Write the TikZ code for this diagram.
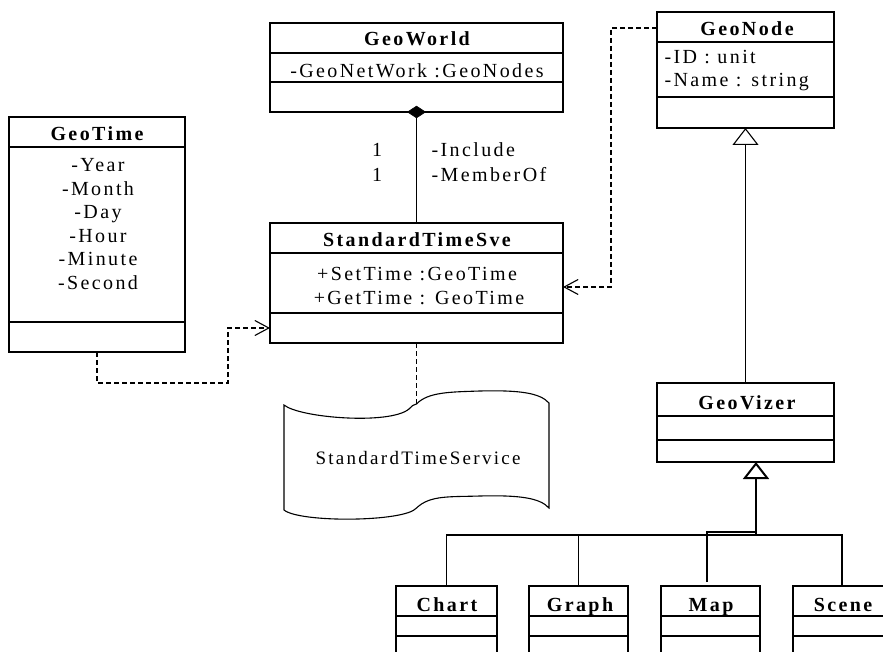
\documentclass[tikz,border=0pt]{standalone}
\usepackage{fontspec}
\setmainfont{Liberation Serif}[LetterSpace=12]
\usetikzlibrary{arrows.meta,shapes.geometric}

% horizontal compartment line inside a class box, #2 pt below its top edge
\newcommand\compline[2]{\draw ([yshift=-#2pt]#1.north west) -- ([yshift=-#2pt]#1.north east);}

\begin{document}
\begin{tikzpicture}[x=1pt,y=-1pt, line width=1.1pt,
  box/.style={draw, rectangle, inner sep=0pt, outer sep=0pt, anchor=north west},
  txt/.style={inner sep=0pt, anchor=base, font=\fontsize{20}{24}\selectfont},
  ttl/.style={inner sep=0pt, anchor=base, font=\fontsize{20}{24}\selectfont\bfseries},
  ltxt/.style={txt, anchor=base west},
  dashes/.style={dash pattern=on 5pt off 3pt, line width=1.3pt},
  dep/.style={dashes, -{Straight Barb[length=14pt,width=15pt,line width=1.1pt]}},
  gen/.style={-{Triangle[open,length=17pt,width=26pt]}},
]
\useasboundingbox (0,0) rectangle (883,652);
\clip (0,0) rectangle (883,652);

% ---------- class boxes ----------
\node[box, minimum width=293pt, minimum height=89pt] (geoworld) at (270,23) {};
\compline{geoworld}{30}\compline{geoworld}{59}

\node[box, minimum width=176pt, minimum height=235pt] (geotime) at (9,117) {};
\compline{geotime}{30}\compline{geotime}{205}

\node[box, minimum width=293pt, minimum height=120pt] (sts) at (270,223) {};
\compline{sts}{30}\compline{sts}{90}

\node[box, minimum width=177pt, minimum height=116pt] (geonode) at (657,12) {};
\compline{geonode}{30}\compline{geonode}{85}

\node[box, minimum width=177pt, minimum height=79pt] (geovizer) at (657,383) {};
\compline{geovizer}{33}\compline{geovizer}{57}

\node[box, minimum width=101pt, minimum height=90pt] (chart) at (396,586) {};
\compline{chart}{30}\compline{chart}{50}
\node[box, minimum width=99pt, minimum height=90pt] (graph) at (529,586) {};
\compline{graph}{30}\compline{graph}{50}
\node[box, minimum width=99pt, minimum height=90pt] (map) at (661,586) {};
\compline{map}{30}\compline{map}{50}
\node[box, minimum width=98pt, minimum height=90pt] (scene) at (793,586) {};
\compline{scene}{30}\compline{scene}{50}

% ---------- texts ----------
\node[ttl] (geoworldT) at (417,46) {GeoWorld};
\node[txt] (geoworldA) at (417,78) {-GeoNetWork :GeoNodes};

\node[ttl] (geotimeT) at (97,141) {GeoTime};
\node[txt] (gtY) at (98,171.5) {-Year};
\node[txt] (gtMo) at (98,195.1) {-Month};
\node[txt] (gtD) at (98,218.7) {-Day};
\node[txt] (gtH) at (98,242.3) {-Hour};
\node[txt] (gtMi) at (98,265.9) {-Minute};
\node[txt] (gtS) at (98,289.5) {-Second};

\node[ttl] (stsT) at (417,247) {StandardTimeSve};
\node[txt] (stsSet) at (417,280) {+SetTime :GeoTime};
\node[txt] (stsGet) at (419,304) {+GetTime : GeoTime};

\node[txt] (m1) at (377,157) {1};
\node[txt] (m2) at (377,182) {1};
\node[ltxt] (r1) at (431,157) {-Include};
\node[ltxt] (r2) at (431,182) {-MemberOf};

\node[ttl] (geonodeT) at (747,36) {GeoNode};
\node[ltxt] (gnID) at (664,64) {-ID : unit};
\node[ltxt] (gnName) at (664,87) {-Name : string};

\node[ttl] (geovizerT) at (747,409) {GeoVizer};

\node[ttl] (chartT) at (447,611) {Chart};
\node[ttl] (graphT) at (580,611) {Graph};
\node[ttl] (mapT) at (711,611) {Map};
\node[ttl] (sceneT) at (843,611) {Scene};

% ---------- service document (wavy scroll) ----------
\coordinate (knee) at (416.5,404);
\draw (284,405) .. controls (300,418) and (390,425) .. (409,409)
  .. controls (412,406) and (414,404) .. (knee)
  .. controls (428,392) and (450,392) .. (480,391)
  .. controls (520,390) and (540,393) .. (549,403)
  -- (549,508)
  .. controls (540,498) and (520,495) .. (480,496)
  .. controls (450,497) and (430,495) .. (416.5,508)
  .. controls (405,522) and (300,523) .. (284,510) -- cycle;
\node[txt, font=\fontsize{19}{22}\selectfont] (svc) at (418,464) {StandardTimeService};

% ---------- connectors ----------
% aggregation GeoWorld -> StandardTimeSve
\node[diamond, draw, fill=black, inner sep=0pt, minimum width=18pt, minimum height=12pt,
      line width=0.6pt] (agg) at (geoworld.south) {};
\draw (agg.south) -- (sts.north);

% dependencies
\coordinate (c1) at (228,383);
\draw[dep] (geotime.south) |- (c1) |- ([yshift=-45pt]sts.west);
\coordinate (c2) at (611,287);
\draw[dep] ([yshift=-16pt]geonode.north west) -| (c2) -- ([yshift=-4pt]sts.east);
\draw[dashes] (sts.south) -- (knee);

% generalisation GeoVizer -> GeoNode
\draw[gen] (geovizer.north) -- (geonode.south);

% generalisation of the four views -> GeoVizer
\coordinate (hub) at (756,535);
\draw[gen, line width=2pt] (hub) -- ([xshift=10.5pt]geovizer.south);
\draw (chart.north) |- (hub);
\draw (graph.north) |- (hub);
\draw (scene.north) |- (hub);
\draw ([xshift=-3.5pt,yshift=4pt]map.north) |- ([yshift=3pt]hub);
\end{tikzpicture}
\end{document}
